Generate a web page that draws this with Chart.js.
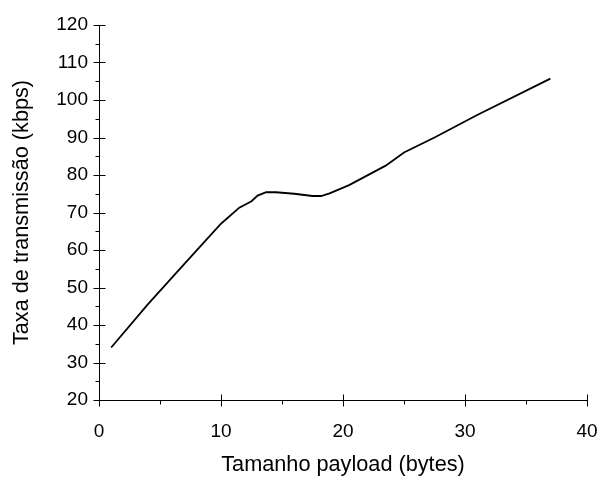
<!DOCTYPE html>
<html>
<head>
<meta charset="utf-8">
<script src="https://cdn.jsdelivr.net/npm/chart.js@4/dist/chart.umd.min.js"></script>
<style>
  html, body { margin: 0; padding: 0; background: #fff; }
  #wrap { width: 601px; height: 484px; }
</style>
</head>
<body>
<div id="wrap"><canvas id="rate-chart" width="601" height="484"></canvas></div>
<script>
// payload size (bytes) vs transmission rate (kbps)
var payloadBytes = [1, 4, 7, 10, 11.5, 12.5, 13, 13.7, 14.5, 16, 17.5, 18.2, 18.9, 20.5, 23.5, 25, 27.5, 31, 37];
var rateKbps = [34, 45.5, 56.3, 67, 71.3, 73, 74.5, 75.4, 75.4, 75, 74.4, 74.4, 75.1, 77.3, 82.5, 86, 90, 96, 105.7];
var xTicks = [0, 10, 20, 30, 40];
var yTicks = [20, 30, 40, 50, 60, 70, 80, 90, 100, 110, 120];

var points = payloadBytes.map(function(x, i) { return { x: x, y: rateKbps[i] }; });
var fontFamily = '"Liberation Sans", Arial, sans-serif';

// axes with major ticks crossing the line and minor ticks outside
var axisTicks = {
    id: 'axisTicks',
    afterDraw: function(chart) {
        var ctx = chart.ctx;
        var xs = chart.scales.x, ys = chart.scales.y;
        var x0 = Math.round(xs.getPixelForValue(0)) + 0.5;
        var y0 = Math.round(ys.getPixelForValue(20)) + 0.5;
        ctx.save();
        ctx.lineWidth = 1;
        ctx.strokeStyle = '#000';
        ctx.beginPath();
        ctx.moveTo(x0, ys.getPixelForValue(120));
        ctx.lineTo(x0, y0);
        ctx.lineTo(xs.getPixelForValue(40), y0);
        yTicks.forEach(function(v) {
            var py = Math.round(ys.getPixelForValue(v)) + 0.5;
            ctx.moveTo(x0 - 6, py); ctx.lineTo(x0 + 6, py);
            if (v < 120) {
                var pm = Math.round(ys.getPixelForValue(v + 5)) + 0.5;
                ctx.moveTo(x0 - 4, pm); ctx.lineTo(x0, pm);
            }
        });
        xTicks.forEach(function(v) {
            var px = Math.round(xs.getPixelForValue(v)) + 0.5;
            ctx.moveTo(px, y0 - 6); ctx.lineTo(px, y0 + 6);
            if (v < 40) {
                var pm = Math.round(xs.getPixelForValue(v + 5)) + 0.5;
                ctx.moveTo(pm, y0); ctx.lineTo(pm, y0 + 4);
            }
        });
        ctx.stroke();
        ctx.restore();
    }
};

var ctx = document.getElementById('rate-chart').getContext('2d');
new Chart(ctx, {
    type: 'scatter',
    data: {
        datasets: [{
            label: 'Taxa de transmissão',
            data: points,
            showLine: true,
            borderColor: '#000',
            borderWidth: 1.8,
            pointRadius: 0,
            tension: 0,
            fill: false
        }]
    },
    options: {
        responsive: false,
        animation: false,
        layout: { padding: { left: 0, right: 14, top: 25, bottom: 0 } },
        plugins: { legend: { display: false }, tooltip: { enabled: false } },
        scales: {
            x: {
                type: 'linear',
                min: 0,
                max: 40,
                afterFit: function(scale) { scale.height = 84; scale.paddingLeft = 0; scale.paddingRight = 0; },
                afterBuildTicks: function(scale) { scale.ticks = xTicks.map(function(v) { return { value: v }; }); },
                grid: { display: false, drawTicks: false },
                border: { display: false },
                ticks: { color: '#000', padding: 20, maxRotation: 0, font: { family: fontFamily, size: 19 } },
                title: {
                    display: true,
                    text: 'Tamanho payload (bytes)',
                    color: '#000',
                    padding: { top: 6, bottom: 6 },
                    font: { family: fontFamily, size: 21.7 }
                }
            },
            y: {
                type: 'linear',
                min: 20,
                max: 120,
                afterFit: function(scale) { scale.width = 99; scale.paddingTop = 0; scale.paddingBottom = 0; },
                afterBuildTicks: function(scale) { scale.ticks = yTicks.map(function(v) { return { value: v }; }); },
                grid: { display: false, drawTicks: false },
                border: { display: false },
                ticks: { color: '#000', padding: 11, font: { family: fontFamily, size: 19 } },
                title: {
                    display: true,
                    text: 'Taxa de transmissão (kbps)',
                    color: '#000',
                    padding: { top: 9, bottom: 9 },
                    font: { family: fontFamily, size: 21.7 }
                }
            }
        }
    },
    plugins: [axisTicks]
});
</script>
</body>
</html>
